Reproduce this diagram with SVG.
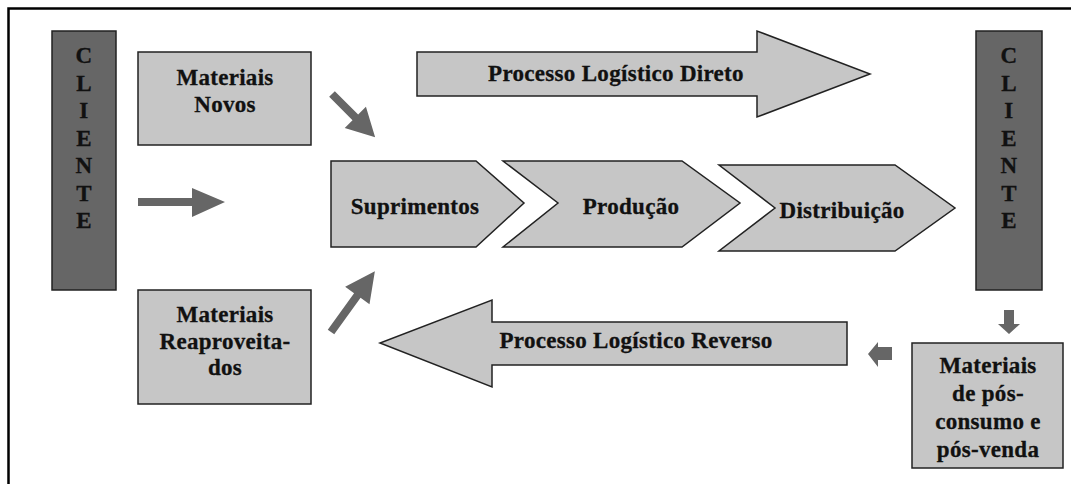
<svg xmlns="http://www.w3.org/2000/svg" width="1071" height="484" viewBox="0 0 1071 484">
<style>
  .lt { fill: #c6c6c6; stroke: #222; stroke-width: 1.5; }
  .dk { fill: #666666; stroke: #222; stroke-width: 1.5; }
  .ar { fill: #666666; stroke: none; }
  text { font-family: "Liberation Serif", "Times New Roman", serif; font-weight: bold; font-size: 23px; letter-spacing: 0.3px; fill: #111; stroke: #111; stroke-width: 0.3; text-anchor: middle; }
</style>
<rect x="0" y="0" width="1071" height="484" fill="#ffffff"/>
<path d="M8.5,484 V8.5 H1071" fill="none" stroke="#000" stroke-width="2.5"/>

<g id="cliente-esq">
  <rect class="dk" x="52" y="31" width="64" height="259"/>
  <text x="84" y="63">C</text>
  <text x="84" y="90.5">L</text>
  <text x="84" y="118">I</text>
  <text x="84" y="146">E</text>
  <text x="84" y="173">N</text>
  <text x="84" y="200.5">T</text>
  <text x="84" y="228">E</text>
</g>

<g id="cliente-dir">
  <rect class="dk" x="976" y="31" width="66" height="259"/>
  <text x="1009" y="63">C</text>
  <text x="1009" y="90.5">L</text>
  <text x="1009" y="118">I</text>
  <text x="1009" y="146">E</text>
  <text x="1009" y="173">N</text>
  <text x="1009" y="200.5">T</text>
  <text x="1009" y="228">E</text>
</g>

<g id="materiais-novos">
  <rect class="lt" x="138" y="52" width="173" height="93"/>
  <text x="225" y="85">Materiais</text>
  <text x="225" y="112">Novos</text>
</g>

<g id="materiais-reaproveitados">
  <rect class="lt" x="138" y="290" width="173" height="114"/>
  <text x="225" y="322">Materiais</text>
  <text x="225" y="349">Reaproveita-</text>
  <text x="225" y="375">dos</text>
</g>

<g id="processo-direto">
  <polygon class="lt" points="417,52 757,52 757,31 870,74 757,117 757,96 417,96"/>
  <text x="616" y="81">Processo Logístico Direto</text>
</g>

<g id="suprimentos">
  <polygon class="lt" points="331,161 476,161 524,203 476,247 331,247"/>
  <text x="415" y="214">Suprimentos</text>
</g>

<g id="producao">
  <polygon class="lt" points="503,161 682,161 740,203 682,247 503,247 558,203"/>
  <text x="631" y="214">Produção</text>
</g>

<g id="distribuicao">
  <polygon class="lt" points="719,165 895,165 955,208 895,251 719,251 775,208"/>
  <text x="842" y="218">Distribuição</text>
</g>

<g id="processo-reverso">
  <polygon class="lt" points="847,322 492,322 492,300 380,343 492,387 492,365 847,365"/>
  <text x="636" y="348">Processo Logístico Reverso</text>
</g>

<g id="materiais-pos">
  <rect class="lt" x="912" y="343" width="151" height="125"/>
  <text x="988" y="373">Materiais</text>
  <text x="988" y="401">de pós-</text>
  <text x="988" y="429">consumo e</text>
  <text x="988" y="457">pós-venda</text>
</g>

<g id="connectors">
  <!-- Materiais Novos -> Suprimentos -->
  <polygon class="ar" transform="translate(332,94) rotate(45)" points="0,-4 33,-4 33,-15 61,0 33,15 33,4 0,4"/>
  <!-- Materiais Reaproveitados -> Suprimentos -->
  <polygon class="ar" transform="translate(331,332) rotate(-54.2)" points="0,-4 45,-4 45,-15 75,0 45,15 45,4 0,4"/>
  <!-- Cliente -> -->
  <polygon class="ar" points="138,198 192,198 192,188 225,202 192,217 192,206 138,206"/>
  <!-- Cliente down to Materiais pos -->
  <polygon class="ar" points="1004,310 1014,310 1014,324 1020,324 1009,334 998,324 1004,324"/>
  <!-- Materiais pos -> Reverso -->
  <polygon class="ar" points="892,347 878,347 878,342 868,354 878,367 878,360 892,360"/>
</g>
</svg>
